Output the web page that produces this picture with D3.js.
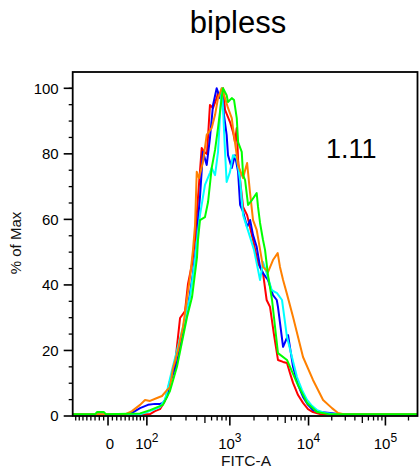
<!DOCTYPE html>
<html>
<head>
<meta charset="utf-8">
<script src="https://cdn.jsdelivr.net/npm/d3@7/dist/d3.min.js"></script>
<style>
  html, body { margin: 0; padding: 0; background: #fff; }
  svg { display: block; font-family: "Liberation Sans", Arial, Helvetica, sans-serif; }
</style>
</head>
<body>
<svg id="chart" width="420" height="475"></svg>
<script>
// Histogram overlays, FITC-A on a logicle (biexponential) axis.
// x values are display channels (0–256), y values are % of Max.
const title = "bipless";
const statLabel = "1.11";
const xLabel = "FITC-A";
const yLabel = "% of Max";

const redSeries = [[0,0.5],[50,0.5],[57.4,0.6],[61.1,1.5],[64.8,2.1],[68.5,4.6],[72.2,10.7],[76,15.9],[79.7,29.9],[83.4,32],[85.6,40.3],[88.6,46.4],[90.8,53.7],[93,66.5],[95.8,81.8],[97.5,80.6],[99.7,80],[101.9,94.9],[104.2,94],[106.9,97],[107.9,98.6],[109.4,97.6],[111.6,100],[113.1,93.4],[116.8,89.7],[119,86.7],[120.5,83.6],[121.8,87.9],[122.8,78],[124.3,72],[126.5,63.8],[129.5,61.3],[133.9,53.7],[137.6,46.7],[141.3,43.6],[144,35.4],[146.5,33.3],[149.5,24.7],[152.4,17.1],[156.2,16.5],[159.1,16.2],[161.3,13.1],[163.6,10.1],[167.3,6.4],[171,4],[174.7,2.1],[178.4,1.2],[183.6,0.6],[256,0.5]];

const blueSeries = [[0,0.5],[20.3,0.5],[22.5,0.8],[24.7,0.5],[42.5,0.6],[50,2.4],[55.9,3.4],[61.1,3.7],[64.8,3.7],[67,4],[70,5.8],[72.2,10.1],[77.4,16.2],[81.9,26.2],[85.6,33.3],[89.3,43.6],[92.3,53.7],[93,59.8],[94.5,66.8],[96.7,80.6],[99.5,76.6],[101.9,84.8],[104.2,94.9],[106.9,100],[109.4,97],[110.9,98.9],[112.3,91.9],[114.3,85.8],[115.3,79.6],[118.1,75.7],[120.5,79.6],[122.8,74.5],[124.3,64.4],[126.5,62.3],[129.5,57.7],[131.7,59.8],[133.9,55.2],[136.6,51.6],[139.1,45.5],[141.3,43.6],[145,41.5],[148.7,36.9],[151.5,35.4],[152.4,33.3],[156.2,21.1],[159.9,24.7],[163.6,15],[167.3,9.5],[171,5.8],[174.7,3.4],[178.4,1.8],[183.6,1.2],[191.1,0.9],[198.5,0.5],[256,0.5]];

const cyanSeries = [[0,0.5],[50,0.5],[55.2,1.2],[61.1,2.1],[64.8,2.7],[68.5,4.9],[73.7,14],[81.9,27.2],[87.1,36.3],[90.8,47.6],[92.3,53.7],[94.5,61.3],[96.7,66.8],[98.2,70.5],[101.9,74.2],[103.2,75.7],[105.7,73.5],[107.9,80.6],[109.4,91.9],[110.6,100],[111.6,94],[113.1,80.6],[114.3,71.4],[116.8,74.5],[119,79.6],[121.8,78.7],[124.3,72],[126.5,61.3],[131.7,54.6],[134.6,50.7],[137.6,44.6],[139.1,41.5],[141.3,47],[144,43.6],[147.8,38.4],[151.7,37.5],[155.4,35.4],[159.1,24.1],[162.8,18],[166.5,11.9],[170.3,7.9],[174,4.9],[177.7,3.1],[181.4,1.8],[187.3,0.9],[194.8,0.5],[256,0.5]];

const orangeSeries = [[0,0.5],[38.8,0.5],[44,1.5],[50,3.4],[53.7,4.9],[57.4,4.6],[62.6,5.5],[66.3,6.1],[70,7.9],[72.2,8.8],[74.5,14.6],[78.2,20.1],[81.9,27.2],[87.1,42.4],[89.3,50.7],[90.8,58],[92.1,74.5],[93.8,72.6],[96.7,77.5],[99.5,85.8],[103.2,87.9],[105.7,91.9],[107.9,97],[110.6,100],[113.1,97],[115.3,94],[118.1,90.9],[119,87.9],[122.8,76.6],[126.5,72.6],[128,75],[129.5,77.2],[131.7,68],[133.9,59.8],[136.6,56.8],[141.3,45.5],[145,43.9],[148.7,47.6],[152.2,49.7],[153.9,45.5],[156.2,41.5],[158.9,37.5],[163.6,30.2],[171,18],[178.4,11],[185.9,4.9],[192.5,2.4],[197,0.9],[202.2,0.5],[256,0.5]];

const greenSeries = [[0,0.5],[16.6,0.5],[18,1.2],[23.2,1.2],[24.7,0.5],[50,0.8],[57.4,1.8],[67,3.4],[72.2,7.6],[77.4,15],[84.9,30.2],[88.6,36.3],[92.3,48.5],[93,53.7],[94.5,59.8],[98.2,60.7],[100.5,65.3],[103.2,75.7],[105.7,81.2],[107.9,87.9],[110.6,97],[111.6,100],[114.3,97.9],[115.3,95.8],[118.1,97],[119.8,96.4],[121.8,90.9],[122.8,83.6],[125.5,80.6],[126.5,73.5],[128,72],[130.2,64.4],[133.1,65.9],[136.6,68],[137.6,63.8],[139.1,58.9],[141.3,53.7],[142.8,50.7],[145,43],[148,35.4],[152.4,19.2],[159.1,17.1],[166.5,10.1],[174,4],[181.4,1.2],[191.1,0.5],[256,0.5]];

const seriesList = [
  { data: redSeries, color: "#ff0000" },
  { data: blueSeries, color: "#0000ff" },
  { data: cyanSeries, color: "#00ffff" },
  { data: orangeSeries, color: "#ff8000" },
  { data: greenSeries, color: "#00ff00" }
];

// Axis ticks (FITC intensities)
const xMajorTicks = [0, 100, 1000, 10000, 100000];
const xMajorExponents = [null, 2, 3, 4, 5];
const xMidTicks = [500, 5000, 50000];
const xMinorTicks = [-90,-80,-70,-60,-50,-40,-30,-20,-10,10,20,30,40,50,60,70,80,90,
  200,300,400,600,700,800,900,2000,3000,4000,6000,7000,8000,9000,
  20000,30000,40000,60000,70000,80000,90000,200000];
const yMajorTicks = [0, 20, 40, 60, 80, 100];
const yMinorTicks = [5,10,15,25,30,35,45,50,55,65,70,75,85,90,95,100];

// Logicle transform (Parks/Moore), returns display fraction 0..1
function makeLogicle(T, W, M, A) {
  const w = W / (M + A), x2 = A / (M + A), x1 = x2 + w, x0 = x2 + 2 * w;
  const b = (M + A) * Math.LN10;
  let lo = 1e-9, hi = b;
  for (let i = 0; i < 200; i++) {
    const mid = (lo + hi) / 2;
    const fv = 2 * (Math.log(mid) - Math.log(b)) + w * (b + mid);
    if (fv > 0) hi = mid; else lo = mid;
  }
  const d = (lo + hi) / 2;
  const ca = Math.exp(x0 * (b + d));
  const mfa = Math.exp(b * x1) - ca / Math.exp(d * x1);
  const a = T / (Math.exp(b) - mfa - ca / Math.exp(d));
  const c = ca * a, f = -mfa * a;
  const S = y => {
    if (y >= x1) return a * Math.exp(b * y) - c * Math.exp(-d * y) + f;
    const yy = 2 * x1 - y;
    return -(a * Math.exp(b * yy) - c * Math.exp(-d * yy) + f);
  };
  return v => {
    let l = -1, h = 1.5;
    for (let i = 0; i < 100; i++) {
      const m = (l + h) / 2;
      if (S(m) < v) l = m; else h = m;
    }
    return (l + h) / 2;
  };
}
const logicle = makeLogicle(262144, 0.461, 4.5, 0);
const toChannel = v => logicle(v) * 256;

const svg = d3.select("#chart");
const plot = { left: 72.7, right: 417.5, top: 72, bottom: 416 };

const x = d3.scaleLinear().domain([0, 256]).range([plot.left, plot.right]);
const y = d3.scaleLinear().domain([0, 100]).range([plot.bottom, 88.3]);

// Title
svg.append("text").attr("x", 238).attr("y", 33).attr("text-anchor", "middle")
  .attr("font-size", 31).attr("fill", "#000").text(title);

// Curves
const line = d3.line().x(d => x(d[0])).y(d => y(d[1]));
const g = svg.append("g");
seriesList.forEach(s => {
  g.append("path").datum(s.data).attr("d", line)
    .attr("fill", "none").attr("stroke", s.color).attr("stroke-width", 2)
    .attr("stroke-linejoin", "round");
});

// Statistic
svg.append("text").attr("x", 326).attr("y", 158).attr("font-size", 27)
  .attr("fill", "#000").text(statLabel);

// Frame
svg.append("rect").attr("x", plot.left).attr("y", plot.top)
  .attr("width", plot.right - plot.left).attr("height", plot.bottom - plot.top)
  .attr("fill", "none").attr("stroke", "#000").attr("stroke-width", 1.8);

// Y axis ticks
const yAxisG = svg.append("g");
yMinorTicks.forEach(t => {
  yAxisG.append("line").attr("x1", plot.left - 4).attr("x2", plot.left)
    .attr("y1", y(t)).attr("y2", y(t)).attr("stroke", "#000").attr("stroke-width", 1.3);
});
yMajorTicks.forEach(t => {
  yAxisG.append("line").attr("x1", plot.left - 9).attr("x2", plot.left)
    .attr("y1", y(t)).attr("y2", y(t)).attr("stroke", "#000").attr("stroke-width", 1.6);
  yAxisG.append("text").attr("x", plot.left - 14).attr("y", y(t)).attr("dy", "0.35em")
    .attr("text-anchor", "end").attr("font-size", 15).attr("fill", "#000").text(t);
});
svg.append("text").attr("transform", `translate(21,243) rotate(-90)`)
  .attr("text-anchor", "middle").attr("font-size", 15).attr("fill", "#111").text(yLabel);

// X axis ticks
const xAxisG = svg.append("g");
const drawXTick = (v, len, w) => {
  const px = x(toChannel(v));
  if (px < plot.left || px > plot.right) return;
  xAxisG.append("line").attr("x1", px).attr("x2", px)
    .attr("y1", plot.bottom).attr("y2", plot.bottom + len)
    .attr("stroke", "#000").attr("stroke-width", w);
};
xMinorTicks.forEach(v => drawXTick(v, 4.5, 1.3));
xMidTicks.forEach(v => drawXTick(v, 7, 1.3));
xMajorTicks.forEach(v => drawXTick(v, 9.5, 1.6));

xMajorTicks.forEach((v, i) => {
  const px = x(toChannel(v));
  const t = xAxisG.append("text").attr("x", px).attr("y", 449)
    .attr("text-anchor", "middle").attr("font-size", 15).attr("fill", "#000");
  if (xMajorExponents[i] === null) {
    t.attr("x", px + 2).text(v);
  } else {
    t.append("tspan").text("10");
    t.append("tspan").attr("dy", -7.5).attr("font-size", 12).text(xMajorExponents[i]);
  }
});

svg.append("text").attr("x", 246).attr("y", 466).attr("text-anchor", "middle")
  .attr("font-size", 15.5).attr("fill", "#111").text(xLabel);
</script>
</body>
</html>
